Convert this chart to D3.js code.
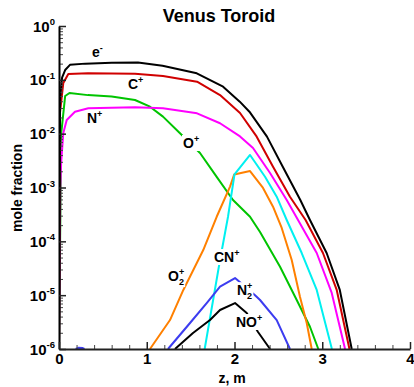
<!DOCTYPE html>
<html>
<head>
<meta charset="utf-8">
<script src="https://cdn.jsdelivr.net/npm/d3@7"></script>
<style>
  body { margin: 0; background: #fff; }
  svg { display: block; }
  text { font-family: "Liberation Sans", Arial, sans-serif; font-weight: bold; fill: #000; }
</style>
</head>
<body>
<svg id="chart" width="414" height="387"></svg>
<script>
// Species mole fractions along the toroid axis: [z (m), mole fraction]
const electrons = [[0,1e-6],[0.012,0.045],[0.035,0.11],[0.07,0.152],[0.125,0.19],[0.3,0.2],[0.6,0.208],[0.9,0.21],[1.18,0.183],[1.57,0.132],[1.87,0.0745],[2.06,0.0393],[2.17,0.0256],[2.37,0.0088],[2.55,0.00243],[2.75,5.86e-4],[2.86,2.49e-4],[3.05,6.07e-5],[3.2,1.25e-5],[3.336,1e-6]];
const carbonIon = [[0,1e-6],[0.011,0.0242],[0.049,0.0873],[0.106,0.128],[0.33,0.133],[0.866,0.13],[1.185,0.118],[1.573,0.0923],[1.835,0.0522],[2.063,0.0242],[2.253,0.00879],[2.439,0.00243],[2.632,6.75e-4],[2.81,2.49e-4],[3.008,6.07e-5],[3.165,1.25e-5],[3.31,1e-6]];
const nitrogenIon = [[0,1e-6],[0.015,1e-3],[0.025,0.003],[0.049,0.0103],[0.088,0.018],[0.182,0.0256],[0.334,0.0296],[0.866,0.031],[1.185,0.0296],[1.573,0.0239],[1.835,0.0156],[2.063,0.0089],[2.211,0.00542],[2.405,0.00186],[2.595,5.86e-4],[2.724,2.49e-4],[2.937,6.07e-5],[3.108,1.1e-5],[3.26,1e-6]];
const oxygenIon = [[0,1e-6],[0.025,0.01],[0.07,0.05],[0.12,0.057],[0.33,0.052],[0.6,0.049],[0.866,0.0422],[1.037,0.0317],[1.185,0.0207],[1.379,0.01016],[1.607,0.00438],[1.797,0.00158],[1.983,5.86e-4],[2.177,2.86e-4],[2.291,1.49e-4],[2.519,3.38e-5],[2.709,8.13e-6],[2.86,2.59e-6],[2.955,1e-6]];
const cyanogenIon = [[1.66,1e-6],[1.835,4.5e-5],[1.926,2.86e-4],[2.0,0.00175],[2.177,0.00402],[2.348,0.00158],[2.481,6.75e-4],[2.595,2.49e-4],[2.766,6.07e-5],[2.937,1.25e-5],[3.11,1e-6]];
const dioxygenIon = [[1.037,1e-6],[1.265,3.45e-6],[1.417,1.25e-5],[1.644,6.9e-5],[1.797,2.86e-4],[1.949,0.00104],[1.997,0.00175],[2.177,0.00202],[2.325,9.8e-4],[2.439,4.4e-4],[2.538,1.77e-4],[2.652,4.5e-5],[2.746,9.35e-6],[2.823,3.04e-6],[2.88,1e-6]];
const dinitrogenIon = [[0.19,1e-6],[0.22,1.05e-6],[0.27,1.04e-6],[0.29,1e-6],null,[1.242,1e-6],[1.493,3.04e-6],[1.683,7.14e-6],[1.835,1.44e-5],[2.006,2.08e-5],[2.12,1.45e-5],[2.234,1.0e-5],[2.291,8.13e-6],[2.481,3.45e-6],[2.632,1e-6]];
const nitricOxideIon = [[1.322,1e-6],[1.527,1.98e-6],[1.721,3.45e-6],[1.835,5.3e-6],[2.006,7.14e-6],[2.139,4.66e-6],[2.268,2.07e-6],[2.405,1e-6]];

// Axis ticks
const zMajorTicks = [0, 1, 2, 3, 4];
const zMinorTicks = [0.2,0.4,0.6,0.8,1.2,1.4,1.6,1.8,2.2,2.4,2.6,2.8,3.2,3.4,3.6,3.8];
const decadeExponents = [-6, -5, -4, -3, -2, -1, 0];

const series = [
  { data: oxygenIon,      color: "#00c400" },
  { data: nitrogenIon,    color: "#ff00ff" },
  { data: dioxygenIon,    color: "#ff8000" },
  { data: cyanogenIon,    color: "#00f0f0" },
  { data: dinitrogenIon,  color: "#3c3cf0" },
  { data: nitricOxideIon, color: "#000000" },
  { data: carbonIon,      color: "#d00000" },
  { data: electrons,      color: "#000000" }
];

// Curve labels: text parts with optional superscript/subscript, anchored at (z, fraction)
const curveLabels = [
  { at: [0.376, 0.265],  parts: [["e"], ["-", "sup"]] },
  { at: [0.786, 0.0676], parts: [["C"], ["+", "sup"]] },
  { at: [0.319, 0.0158], parts: [["N"], ["+", "sup"]] },
  { at: [1.413, 0.00542],parts: [["O"], ["+", "sup"]] },
  { at: [1.766, 4.13e-5],parts: [["CN"], ["+", "sup"]] },
  { at: [1.242, 1.83e-5],parts: [["O"], ["2", "sub"], ["+", "sup"]] },
  { at: [2.028, 1.0e-5], parts: [["N"], ["2", "sub"], ["+", "sup"]] },
  { at: [2.017, 2.56e-6],parts: [["NO"], ["+", "sup"]] }
];

const svg = d3.select("#chart");
const x = d3.scaleLinear().domain([0, 4]).range([59, 410]);
const y = d3.scaleLog().domain([1e-6, 1]).range([349, 26]);

svg.append("defs").append("clipPath").attr("id", "plotClip")
  .append("rect").attr("x", 59).attr("y", 20).attr("width", 352).attr("height", 330);

// Title
svg.append("text").attr("x", 219).attr("y", 22).attr("text-anchor", "middle")
  .style("font-size", "18px").text("Venus Toroid");

// Curves
const line = d3.line()
  .defined(d => d !== null)
  .x(d => x(d[0]))
  .y(d => y(d[1]));

const curves = svg.append("g").attr("clip-path", "url(#plotClip)");
series.forEach(s => {
  curves.append("path")
    .attr("d", line(s.data))
    .attr("fill", "none")
    .attr("stroke", s.color)
    .attr("stroke-width", 2)
    .attr("stroke-linejoin", "round");
});

// Curve labels with white backing that interrupts the lines beneath
const labelLayer = svg.append("g");
curveLabels.forEach(l => {
  const g = labelLayer.append("g");
  const t = g.append("text")
    .attr("x", x(l.at[0])).attr("y", y(l.at[1]))
    .style("font-size", "14px");
  let shift = 0;
  let prevSub = false;
  l.parts.forEach(([str, kind]) => {
    const ts = t.append("tspan").text(str);
    if (kind === "sup") {
      ts.style("font-size", "9px").attr("dy", (-6 - shift));
      if (prevSub) ts.attr("dx", -5);
      shift = -6;
    } else if (kind === "sub") {
      ts.style("font-size", "9px").attr("dy", 4 - shift);
      shift = 4;
      prevSub = true;
    } else {
      if (shift !== 0) ts.attr("dy", -shift);
      shift = 0;
    }
  });
  const bb = t.node().getBBox();
  g.insert("rect", "text")
    .attr("x", bb.x - 1).attr("y", bb.y + 1)
    .attr("width", bb.width + 2).attr("height", bb.height - 1)
    .attr("fill", "#fff");
});

// Y axis: decade ticks inside, with log minor ticks
const yMinor = [];
decadeExponents.slice(0, -1).forEach(e => {
  for (let k = 2; k <= 9; k++) yMinor.push(k * Math.pow(10, e));
});
const yAxisG = svg.append("g").attr("transform", "translate(59,0)");
yAxisG.call(d3.axisLeft(y).tickValues(yMinor).tickSizeInner(-4).tickSizeOuter(0).tickFormat(""));
yAxisG.call(g => g.selectAll(".domain").remove());
yAxisG.selectAll(".tick line").attr("stroke", "#444");
const yMajorG = svg.append("g").attr("transform", "translate(59,0)");
yMajorG.call(d3.axisLeft(y).tickValues(decadeExponents.map(e => Math.pow(10, e)))
  .tickSizeInner(-7).tickSizeOuter(0).tickFormat(""));
yMajorG.select(".domain").attr("stroke", "#000").attr("stroke-width", 2);
yMajorG.selectAll(".tick line").attr("stroke", "#222").attr("stroke-width", 1.5);

// Y tick labels as powers of ten
decadeExponents.forEach(e => {
  const t = svg.append("text")
    .attr("x", 55).attr("y", y(Math.pow(10, e)) + 5.5)
    .attr("text-anchor", "end").style("font-size", "15px");
  t.append("tspan").text("10");
  t.append("tspan").text(String(e)).style("font-size", "9.5px").attr("dy", -6.5);
});

// X axis
const xMinorG = svg.append("g").attr("transform", "translate(0,349)");
xMinorG.call(d3.axisBottom(x).tickValues(zMinorTicks).tickSizeInner(-4).tickSizeOuter(0).tickFormat(""));
xMinorG.select(".domain").remove();
xMinorG.selectAll(".tick line").attr("stroke", "#444");
const xAxisG = svg.append("g").attr("transform", "translate(0,349)");
xAxisG.call(d3.axisBottom(x).tickValues(zMajorTicks).tickSizeInner(-7).tickSizeOuter(0)
  .tickPadding(4).tickFormat(d3.format("d")));
xAxisG.select(".domain").attr("stroke", "#222").attr("stroke-width", 2);
xAxisG.selectAll(".tick line").attr("stroke", "#222").attr("stroke-width", 1.5);
xAxisG.selectAll(".tick text")
  .style("font-size", "15px").style("font-weight", "bold")
  .style("font-family", "\"Liberation Sans\", Arial, sans-serif").attr("fill", "#000");

// Axis titles
svg.append("text").attr("x", 232).attr("y", 383).attr("text-anchor", "middle")
  .style("font-size", "14px").text("z, m");
svg.append("text").attr("transform", "translate(22,188) rotate(-90)")
  .attr("text-anchor", "middle").style("font-size", "14px").text("mole fraction");
</script>
</body>
</html>
